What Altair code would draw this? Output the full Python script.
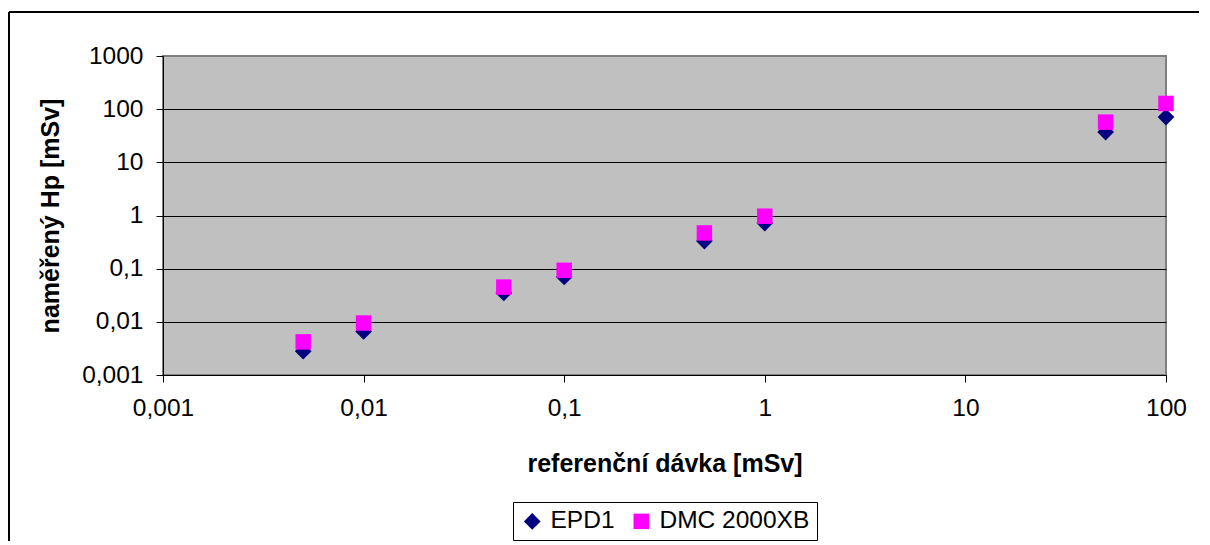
import altair as alt
import pandas as pd

ref = [0.005, 0.01, 0.05, 0.1, 0.5, 1, 50, 100]
epd1 = [0.0028, 0.0066, 0.035, 0.07, 0.33, 0.72, 37, 71]
dmc = [0.0042, 0.0095, 0.045, 0.093, 0.47, 0.97, 57, 128]
series = ["EPD1", "DMC 2000XB"]
x_ticks = [0.001, 0.01, 0.1, 1, 10, 100]
y_ticks = [0.001, 0.01, 0.1, 1, 10, 100, 1000]

rows = []
for name, vals in zip(series, [epd1, dmc]):
    for r, v in zip(ref, vals):
        rows.append({"ref": r, "val": v, "series": name})
df = pd.DataFrame(rows)

W, H = 1003, 319
FONT = "Liberation Sans"

points = alt.Chart(df).mark_point(filled=True, opacity=1, strokeWidth=0).encode(
    x=alt.X("ref:Q",
            scale=alt.Scale(type="log", domain=[0.001, 100]),
            axis=alt.Axis(values=x_ticks, title="referenční dávka [mSv]",
                          labelExpr="replace(format(datum.value, '~g'), '.', ',')",
                          grid=False, tickSize=7, labelPadding=33,
                          labelBaseline="alphabetic", labelFlush=False, labelAlign="center",
                          titleY=96, titleBaseline="alphabetic")),
    y=alt.Y("val:Q",
            scale=alt.Scale(type="log", domain=[0.001, 1000]),
            axis=alt.Axis(values=y_ticks, title="naměřený Hp [mSv]",
                          labelExpr="replace(format(datum.value, '~g'), '.', ',')",
                          grid=True, tickSize=7, labelPadding=13,
                          labelBaseline="middle", labelFlush=False,
                          titleX=-105, titleY=H / 2, titleBaseline="alphabetic",
                          titleAngle=-90,
                          gridColor={"condition": {"test": "datum.value == 1000", "value": "#808080"}, "value": "black"})),
    color=alt.Color("series:N",
                    scale=alt.Scale(domain=series, range=["#000080", "#FF00FF"]),
                    legend=alt.Legend(title=None, orient="none", legendX=350, legendY=446,
                                      direction="horizontal", strokeColor="#000000",
                                      fillColor="white", padding=7, labelFontSize=24.5,
                                      labelFont=FONT, symbolSize=220, labelOffset=6,
                                      columnPadding=14, symbolStrokeWidth=0)),
    shape=alt.Shape("series:N",
                    scale=alt.Scale(domain=series, range=["diamond", "square"]),
                    legend=alt.Legend(title=None, orient="none", legendX=350, legendY=446,
                                      direction="horizontal")),
    size=alt.Size("series:N", scale=alt.Scale(domain=series, range=[280, 240]), legend=None),
    order=alt.Order("order:Q"),
).transform_calculate(order="datum.series == 'EPD1' ? 0 : 1")

frame_top = alt.Chart().mark_rule(color="black", strokeWidth=2).encode(
    x=alt.value(-154), x2=alt.value(1036), y=alt.value(-44))
frame_left = alt.Chart().mark_rule(color="black", strokeWidth=2).encode(
    x=alt.value(-154), y=alt.value(-44), y2=alt.value(490))

chart = alt.layer(points, frame_top, frame_left).properties(
    width=W, height=H,
    autosize=alt.AutoSizeParams(type="none"),
    padding={"left": 155, "top": 48, "right": 36, "bottom": 166},
    background="white",
).configure_view(
    fill="#C0C0C0", stroke="#808080", strokeWidth=2
).configure_axis(
    labelFont=FONT, titleFont=FONT, labelFontSize=24.5, titleFontSize=25,
    labelColor="black", titleColor="black", titleFontWeight="bold",
    domainColor="black", tickColor="black", domainWidth=1, tickWidth=1,
    gridWidth=1, labelFontWeight="normal"
)

chart.save("out.html", embed_options={"renderer": "svg", "actions": False})
